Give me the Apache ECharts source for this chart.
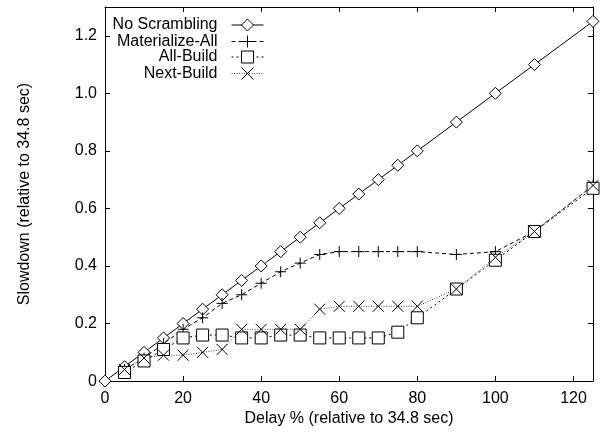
<!DOCTYPE html>
<html>
<head>
<meta charset="utf-8">
<script src="https://cdn.jsdelivr.net/npm/echarts@6/dist/echarts.min.js"></script>
<style>html,body{margin:0;padding:0;background:#fff;}#c{width:601px;height:432px;}</style>
</head>
<body>
<div id="c"></div>
<script>
const noDelays = [0,5,10,15,20,25,30,35,40,45,50,55,60,65,70,75,80,90,100,110,125];
const delays = [5,10,15,20,25,30,35,40,45,50,55,60,65,70,75,80,90,100,110,125];
const noScrambling = [0,0.05,0.10,0.15,0.20,0.25,0.30,0.35,0.40,0.45,0.50,0.55,0.60,0.65,0.70,0.75,0.80,0.90,1.00,1.10,1.25];
const materializeAll = [0.04,0.08,0.13,0.18,0.22,0.27,0.30,0.34,0.38,0.41,0.44,0.45,0.45,0.45,0.45,0.45,0.44,0.45,0.52,0.68];
const allBuild = [0.03,0.07,0.11,0.15,0.16,0.16,0.15,0.15,0.16,0.16,0.15,0.15,0.15,0.15,0.17,0.22,0.32,0.42,0.52,0.67];
const nextBuild = [0.04,0.08,0.09,0.09,0.10,0.11,0.18,0.18,0.18,0.18,0.25,0.26,0.26,0.26,0.26,0.26,0.32,0.43,0.52,0.68];
const seriesNames = ['No Scrambling','Materialize-All','All-Build','Next-Build'];
const xTicks = [0,20,40,60,80,100,120];
const yTicks = [0,0.2,0.4,0.6,0.8,1.0,1.2];

const pairs = (xs, ys) => xs.map((x, i) => [x, ys[i]]);
const FONT = 'Liberation Sans, Arial, sans-serif';
const PLUS = 'path://M0,5L10,5M5,0L5,10';
const CROSS = 'path://M0,0L10,10M10,0L0,10';

const chart = echarts.init(document.getElementById('c'), null, {renderer: 'canvas'});
const axisCommon = {
  type: 'value',
  axisLine: {show: true, onZero: false, lineStyle: {color: '#000', width: 1}},
  axisTick: {show: true, inside: true, length: 5, lineStyle: {color: '#000'}},
  splitLine: {show: false},
};
const mkSeries = (name, xs, ys, symbol, size, dash, color) => ({
  name, type: 'line', data: pairs(xs, ys), symbol, symbolSize: size, clip: false,
  showAllSymbol: true, animation: false,
  lineStyle: {color: color, width: 1, type: dash},
  itemStyle: {color: symbol.startsWith('path') ? 'none' : '#fff', borderColor: '#000', borderWidth: 1},
  emphasis: {disabled: true}
});
const legendTops = [17, 33, 49, 65];
const legends = seriesNames.map((n, i) => ({
  data: [n], orient: 'vertical', right: 337, top: legendTops[i], padding: 0,
  align: 'right', itemWidth: 32, itemHeight: 15, selectedMode: false,
  lineStyle: {width: 1},
  itemStyle: {borderWidth: 1},
  textStyle: {fontFamily: FONT, fontSize: 16, color: '#000', padding: [0, 9, 0, 0]}
}));
chart.setOption({
  animation: false,
  backgroundColor: '#fff',
  grid: {left: 105, right: 8, top: 7, bottom: 47, containLabel: false},
  legend: legends,
  xAxis: [
    Object.assign({}, axisCommon, {min: 0, max: 125, interval: 20, position: 'bottom',
      name: 'Delay % (relative to 34.8 sec)', nameLocation: 'middle', nameGap: 28,
      nameTextStyle: {fontFamily: FONT, fontSize: 16, color: '#000'},
      axisLabel: {fontFamily: FONT, fontSize: 16, color: '#000', margin: 9, showMaxLabel: false,
        formatter: v => xTicks.includes(v) ? String(v) : ''}}),
    Object.assign({}, axisCommon, {min: 0, max: 125, interval: 20, position: 'top', axisLabel: {show: false}})
  ],
  yAxis: [
    Object.assign({}, axisCommon, {min: 0, max: 1.3, interval: 0.2, position: 'left',
      name: 'Slowdown (relative to 34.8 sec)', nameLocation: 'middle', nameGap: 72,
      nameTextStyle: {fontFamily: FONT, fontSize: 16, color: '#000'},
      axisLabel: {fontFamily: FONT, fontSize: 16, color: '#000', margin: 8, showMaxLabel: false,
        formatter: v => { const t = yTicks.find(k => Math.abs(k - v) < 1e-6); return t === undefined ? '' : (t === 0 ? '0' : t.toFixed(1)); }}}),
    Object.assign({}, axisCommon, {min: 0, max: 1.3, interval: 0.2, position: 'right', axisLabel: {show: false}})
  ],
  series: [
    mkSeries(seriesNames[0], noDelays, noScrambling, 'diamond', 12, 'solid', '#000'),
    mkSeries(seriesNames[1], delays, materializeAll, PLUS, 11, [4, 3], '#000'),
    mkSeries(seriesNames[2], delays, allBuild, 'rect', 12, [2, 3], '#000'),
    mkSeries(seriesNames[3], delays, nextBuild, CROSS, 11, [1, 1.5], '#444')
  ]
});
</script>
</body>
</html>
